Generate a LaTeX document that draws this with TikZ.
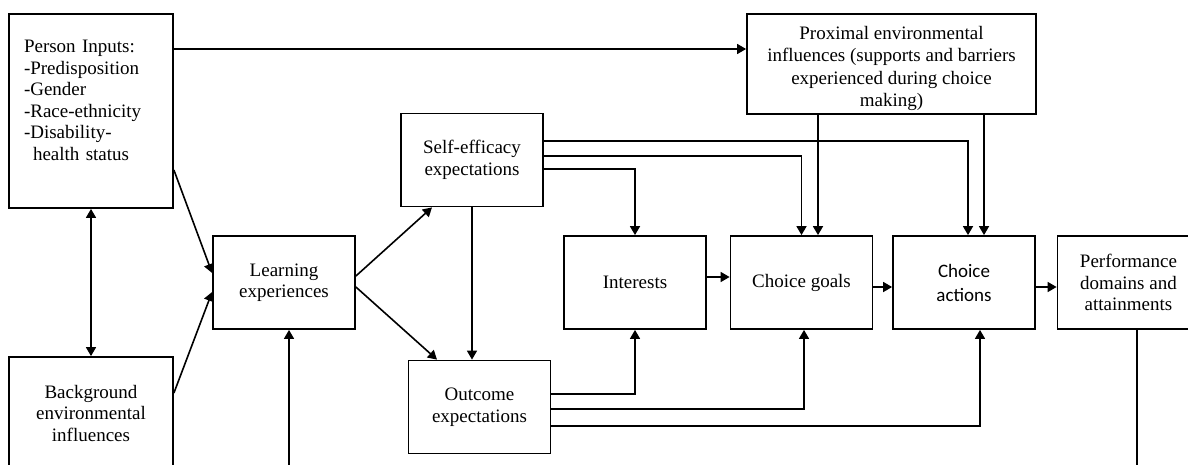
\documentclass[tikz,border=0pt]{standalone}
\usepackage{fontspec}
\setmainfont{Liberation Serif}
\newfontfamily\calibri{Carlito}
\usetikzlibrary{arrows.meta}

\tikzset{
  box/.style={draw, line width=1.8pt, minimum width=142pt, minimum height=93pt,
    inner sep=0pt, align=center, font=\fontsize{19}{21.5}\selectfont},
}

\begin{document}
\begin{tikzpicture}[x=1pt, y=-1pt, line width=1.6pt, >={Triangle[length=9pt,width=10pt]}]
\useasboundingbox (0,0) rectangle (1188,464);
\clip (0,0) rectangle (1188,464);

% boxes
\node[box, minimum width=164pt, minimum height=194pt, text width=134pt, align=left] (person) at (91,111)
  {Person Inputs:\\-Predisposition\\-Gender\\-Race-ethnicity\\-Disability-\\\hspace*{9pt}health status\\~};
\node[box, minimum width=164pt, minimum height=112pt] (backgr) at (91,413) {Background\\environmental\\influences};
\node[box] (learn) at (284,282.5) {Learning\\experiences};
\node[box] (selfeff) at (472,160) {Self-efficacy\\expectations};
\node[box] (outcome) at (479.5,407) {Outcome\\expectations};
\node[box] (interest) at (635,282.5) {Interests};
\node[box] (goals) at (801.5,282.5) {Choice goals};
\node[box, font=\calibri\fontsize{19}{24}\selectfont] (actions) at (964,282.5) {Choice\\actions};
\node[box] (perf) at (1128.5,282.5) {Performance\\domains and\\attainments};
\node[box, minimum width=289pt, minimum height=100pt, font=\fontsize{19}{22.3}\selectfont] (proximal) at (891.5,64)
  {\rule{0pt}{22pt}Proximal environmental\\influences (supports and barriers\\experienced during choice\\making)};

% person inputs
\coordinate (pin) at ([yshift=62pt]person.east);
\draw[->] (pin) -- (pin -| proximal.west);
\draw[->] ([yshift=-59pt]person.east) -- ([yshift=9.5pt]learn.west);
\draw[->] ([yshift=20pt]backgr.east) -- ([yshift=-9.5pt]learn.west);
\draw[<->] (person.south) -- (backgr.north);
\coordinate (lfoot) at ([xshift=5pt]learn.south |- 0,480);
\draw[->] (lfoot) -- ([xshift=5pt]learn.south);

% learning experiences
\draw[->] ([yshift=6.5pt]learn.east) -- ([xshift=-40pt]selfeff.south);
\draw[->] ([yshift=-4.5pt]learn.east) -- ([xshift=-42.5pt]outcome.north);
\draw[->] (selfeff.south) -- (selfeff.south |- outcome.north);

% self-efficacy
\draw[->] ([yshift=-9pt]selfeff.east) -| (interest.north);
\draw[->] ([yshift=4pt]selfeff.east) -| (goals.north);
\draw[->] ([yshift=19pt]selfeff.east) -| ([xshift=4pt]actions.north);
\draw[->] ([xshift=16.5pt]goals.north |- proximal.south) -- ([xshift=16.5pt]goals.north);
\draw[->] ([xshift=20pt]actions.north |- proximal.south) -- ([xshift=20pt]actions.north);

% outcome
\draw[->] ([yshift=13pt]outcome.east) -| (interest.south);
\draw[->] ([yshift=-2pt]outcome.east) -| ([xshift=2.5pt]goals.south);
\draw[->] ([yshift=-19pt]outcome.east) -| ([xshift=16pt]actions.south);

% main chain
\draw[->] ([yshift=5.5pt]interest.east) -- ([yshift=5.5pt]goals.west);
\draw[->] ([yshift=-4.5pt]goals.east) -- ([yshift=-4.5pt]actions.west);
\draw[->] ([yshift=-4.5pt]actions.east) -- ([yshift=-4.5pt]perf.west);
\coordinate (pfoot) at ([xshift=8.5pt]perf.south |- 0,480);
\draw (perf.south -| pfoot) -- (pfoot);

\end{tikzpicture}
\end{document}
